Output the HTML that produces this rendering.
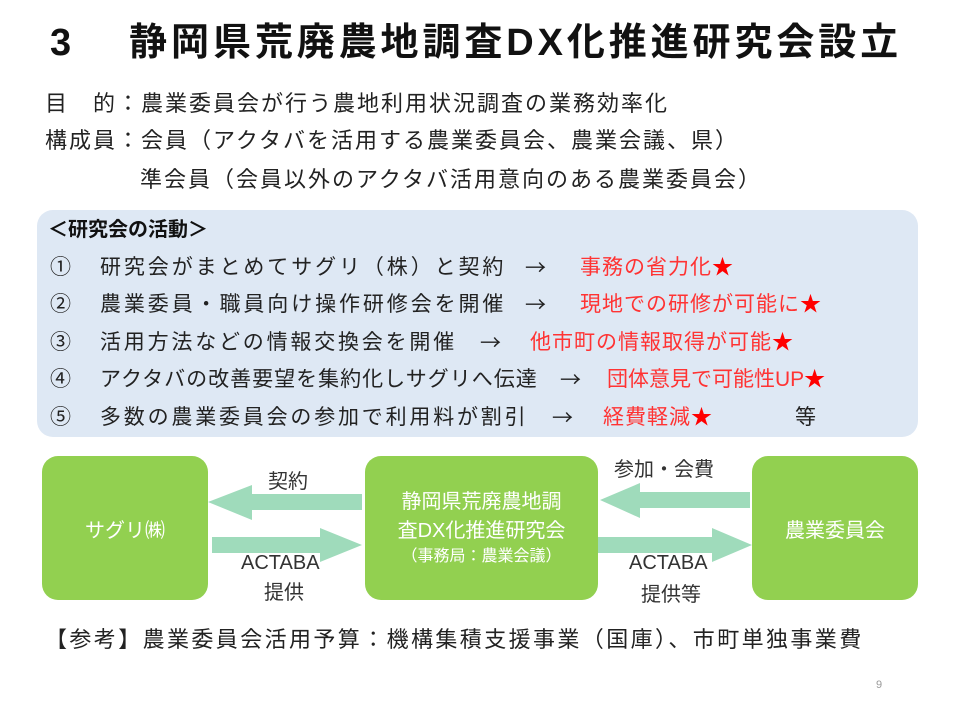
<!DOCTYPE html>
<html><head><meta charset="utf-8"><style>
body{margin:0;width:960px;height:720px;background:#fff;position:relative;overflow:hidden;font-family:"Liberation Sans","Noto Sans CJK JP",sans-serif;color:#222}
.t{position:absolute;white-space:nowrap;line-height:1}
.r{color:#ff3333}
.s{color:#ff0000}
.a{font-family:"Noto Sans CJK JP",sans-serif}
.box{position:absolute;background:#92d050;border-radius:16px;color:#fff;display:flex;align-items:center;justify-content:center;text-align:center}
</style></head><body>
<div class="t" style="left:50px;top:24px;font-size:38px;font-weight:bold;color:#111">3<span style="display:inline-block;width:58px"></span><span style="letter-spacing:3.9px">静岡県荒廃農地調査DX化推進研究会設立</span></div>
<div class="t" style="left:45px;top:93px;font-size:22px;letter-spacing:2px">目　的：農業委員会が行う農地利用状況調査の業務効率化</div>
<div class="t" style="left:45px;top:130px;font-size:22px;letter-spacing:2px">構成員：会員（アクタバを活用する農業委員会、農業会議、県）</div>
<div class="t" style="left:140px;top:169px;font-size:22px;letter-spacing:2px">準会員（会員以外のアクタバ活用意向のある農業委員会）</div>

<div style="position:absolute;left:37px;top:210px;width:881px;height:227px;background:#dee8f4;border-radius:16px"></div>
<div class="t" style="left:48px;top:220px;font-size:20px;font-weight:bold;color:#111">＜研究会の活動＞</div>

<div class="t" style="left:50px;top:257px;font-size:21px">①</div>
<div class="t" style="left:100px;top:257px;font-size:21px;letter-spacing:2.9px">研究会がまとめてサグリ（株）と契約</div>
<div class="t a" style="left:525px;top:257px;font-size:21px">→</div>
<div class="t r" style="left:580px;top:257px;font-size:21px;letter-spacing:1px">事務の省力化<span class="s">★</span></div>

<div class="t" style="left:50px;top:294px;font-size:21px">②</div>
<div class="t" style="left:100px;top:294px;font-size:21px;letter-spacing:2.9px">農業委員・職員向け操作研修会を開催</div>
<div class="t a" style="left:525px;top:294px;font-size:21px">→</div>
<div class="t r" style="left:580px;top:294px;font-size:21px;letter-spacing:1px">現地での研修が可能に<span class="s">★</span></div>

<div class="t" style="left:50px;top:332px;font-size:21px">③</div>
<div class="t" style="left:100px;top:332px;font-size:21px;letter-spacing:2.8px">活用方法などの情報交換会を開催</div>
<div class="t a" style="left:480px;top:332px;font-size:21px">→</div>
<div class="t r" style="left:530px;top:332px;font-size:21px;letter-spacing:1px">他市町の情報取得が可能<span class="s">★</span></div>

<div class="t" style="left:50px;top:369px;font-size:21px">④</div>
<div class="t" style="left:100px;top:369px;font-size:21px;letter-spacing:1px">アクタバの改善要望を集約化しサグリへ伝達</div>
<div class="t a" style="left:560px;top:369px;font-size:21px">→</div>
<div class="t r" style="left:607px;top:369px;font-size:21px">団体意見で可能性UP<span class="s">★</span></div>

<div class="t" style="left:50px;top:407px;font-size:21px">⑤</div>
<div class="t" style="left:100px;top:407px;font-size:21px;letter-spacing:2.8px">多数の農業委員会の参加で利用料が割引</div>
<div class="t a" style="left:552px;top:407px;font-size:21px">→</div>
<div class="t r" style="left:603px;top:407px;font-size:21px;letter-spacing:1px">経費軽減<span class="s">★</span></div>
<div class="t" style="left:795px;top:407px;font-size:21px">等</div>

<svg style="position:absolute;left:0;top:0" width="960" height="720">
<g fill="#9fdbbb">
<polygon points="362,494 252,494 252,485 208,502 252,520 252,510 362,510"/>
<polygon points="212,537 320,537 320,528 362,545 320,562 320,553 212,553"/>
<polygon points="750,492 640,492 640,483 600,500 640,518 640,508 750,508"/>
<polygon points="598,537 712,537 712,528 752,545 712,562 712,553 598,553"/>
</g>
</svg>
<div class="box" style="left:42px;top:456px;width:166px;height:144px;font-size:20px">サグリ㈱</div>
<div class="box" style="left:365px;top:456px;width:233px;height:144px;font-size:20px;line-height:29px;flex-direction:column"><div>静岡県荒廃農地調<br>査DX化推進研究会</div><div style="font-size:16px;line-height:22px">（事務局：農業会議）</div></div>
<div class="box" style="left:752px;top:456px;width:166px;height:144px;font-size:20px">農業委員会</div>

<div class="t" style="left:268px;top:472px;font-size:20px;color:#333">契約</div>
<div class="t" style="left:241px;top:553px;font-size:20px;color:#333">ACTABA</div>
<div class="t" style="left:264px;top:583px;font-size:20px;color:#333">提供</div>
<div class="t" style="left:614px;top:460px;font-size:20px;color:#333">参加・会費</div>
<div class="t" style="left:629px;top:553px;font-size:20px;color:#333">ACTABA</div>
<div class="t" style="left:641px;top:585px;font-size:20px;color:#333">提供等</div>

<div class="t" style="left:45px;top:629px;font-size:22px;letter-spacing:2.4px">【参考】農業委員会活用予算：機構集積支援事業（国庫）、市町単独事業費</div>
<div class="t" style="left:876px;top:680px;font-size:11px;color:#999">9</div>
</body></html>
